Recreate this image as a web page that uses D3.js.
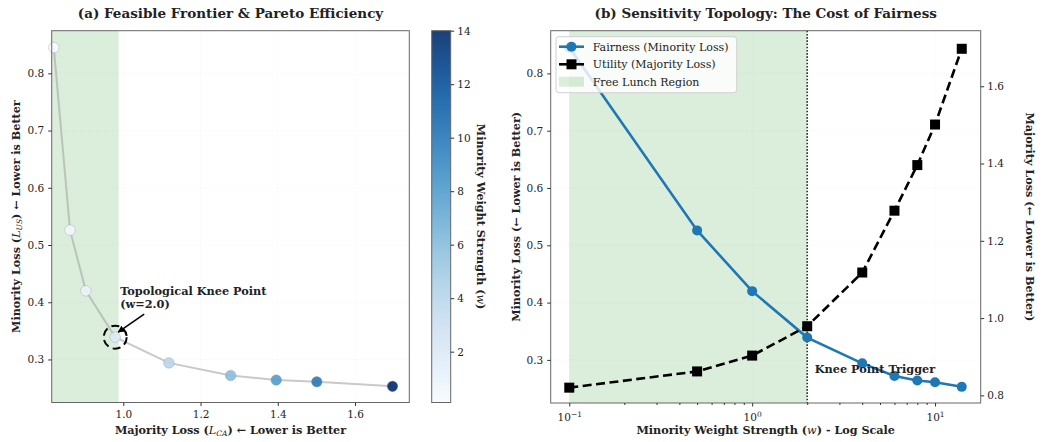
<!DOCTYPE html>
<html><head><meta charset="utf-8">
<script src="https://cdn.jsdelivr.net/npm/d3@7/dist/d3.min.js"></script>
<style>
body{margin:0;background:#fff}
svg text{font-family:"DejaVu Serif",serif;fill:#222}
</style>
</head><body>
<svg id="c" width="1042" height="442"></svg>
<script>
// ---- data ----
const weights      = [0.1, 0.5, 1, 2, 4, 6, 8, 10, 14];
const minorityLoss = [0.845, 0.526, 0.42, 0.339, 0.294, 0.272, 0.264, 0.261, 0.253];
const majorityLoss = [0.82, 0.862, 0.903, 0.979, 1.118, 1.278, 1.396, 1.501, 1.697];
const kneeIndex = 3;
const freeLunchEndMajority = 0.988;
const leftXTicks = [1.0, 1.2, 1.4, 1.6];
const lossTicks  = [0.3, 0.4, 0.5, 0.6, 0.7, 0.8];
const cbTicks    = [2, 4, 6, 8, 10, 12, 14];
const logTicks   = [0.1, 1, 10];
const logMinor   = [0.2,0.3,0.4,0.5,0.6,0.7,0.8,0.9,2,3,4,5,6,7,8,9];
const majTicks   = [0.8, 1.0, 1.2, 1.4, 1.6];
const legendLabels = ["Fairness (Minority Loss)", "Utility (Majority Loss)", "Free Lunch Region"];

const BLUE = "#1f77b4", GREEN = "rgba(0,128,0,0.14)", SPINE = "#666";
const svg = d3.select("#c");
svg.append("rect").attr("width",1042).attr("height",442).attr("fill","#fff");

const defs = svg.append("defs");
defs.append("marker").attr("id","arr").attr("viewBox","0 0 10 10").attr("refX",9).attr("refY",5)
  .attr("markerWidth",7).attr("markerHeight",7).attr("orient","auto-start-reverse")
  .attr("markerUnits","userSpaceOnUse")
  .append("path").attr("d","M0,0 L10,5 L0,10 Z").attr("fill","#000");

function styleAxis(g){
  g.select(".domain").remove();
  g.selectAll(".tick line").attr("stroke","#333");
  g.selectAll(".tick text").attr("font-size","10.5px").attr("font-family","DejaVu Serif").attr("fill","#222");
}
function frame(x0,y0,x1,y1){
  svg.append("rect").attr("x",x0).attr("y",y0).attr("width",x1-x0).attr("height",y1-y0)
    .attr("fill","none").attr("stroke",SPINE).attr("stroke-width",1);
}
function grid(xs, xv, ys, yv, x0,y0,x1,y1){
  const g = svg.append("g").attr("stroke","rgba(0,0,0,0.045)").attr("stroke-dasharray","2,2").attr("stroke-width",0.8);
  xv.forEach(v=>g.append("line").attr("x1",xs(v)).attr("x2",xs(v)).attr("y1",y0).attr("y2",y1));
  yv.forEach(v=>g.append("line").attr("y1",ys(v)).attr("y2",ys(v)).attr("x1",x0).attr("x2",x1));
}

// ================= Panel (a) =================
const A = {x0:51.7, x1:409.3, y0:30.7, y1:402.5};
const xA = d3.scaleLinear().domain([0.8146, 1.7405]).range([A.x0, A.x1]);
const yA = d3.scaleLinear().domain([0.2248, 0.8745]).range([A.y1, A.y0]);
const cNorm = d3.scaleLinear().domain([0.1, 14]).range([0,1]).clamp(true);
const cmap = w => d3.interpolateBlues(cNorm(w));

grid(xA, leftXTicks, yA, lossTicks, A.x0,A.y0,A.x1,A.y1);
svg.append("rect").attr("x",A.x0).attr("y",A.y0).attr("width",xA(freeLunchEndMajority)-A.x0)
  .attr("height",A.y1-A.y0).attr("fill",GREEN);

const ptsA = weights.map((w,i)=>({w, x:majorityLoss[i], y:minorityLoss[i]}));
svg.append("path").datum(ptsA)
  .attr("d", d3.line().x(d=>xA(d.x)).y(d=>yA(d.y)))
  .attr("fill","none").attr("stroke","#a9aea9").attr("stroke-opacity",0.65).attr("stroke-width",2);
svg.append("g").selectAll("circle").data(ptsA).join("circle")
  .attr("cx",d=>xA(d.x)).attr("cy",d=>yA(d.y)).attr("r",5.3)
  .attr("fill",d=>cmap(d.w)).attr("fill-opacity",0.92)
  .attr("stroke","rgba(150,150,150,0.6)").attr("stroke-width",0.6);

// knee annotation
const kx = xA(majorityLoss[kneeIndex]), ky = yA(minorityLoss[kneeIndex]);
svg.append("circle").attr("cx",kx).attr("cy",ky).attr("r",11.5).attr("fill","none")
  .attr("stroke","#000").attr("stroke-width",2).attr("stroke-dasharray","8,4.5");
svg.append("line").attr("x1",kx+29).attr("y1",ky-23).attr("x2",kx+3).attr("y2",ky-5)
  .attr("stroke","#000").attr("stroke-width",1.6).attr("marker-end","url(#arr)");
const kt = svg.append("text").attr("x",kx+5).attr("y",ky-42).attr("font-size","11.3px").attr("font-weight","bold").attr("fill","#000");
kt.append("tspan").attr("x",kx+5).text("Topological Knee Point");
kt.append("tspan").attr("x",kx+5).attr("dy","1.15em").text("(w=2.0)");

frame(A.x0,A.y0,A.x1,A.y1);
const axA = svg.append("g").attr("transform",`translate(0,${A.y1})`)
  .call(d3.axisBottom(xA).tickValues(leftXTicks).tickFormat(d3.format(".1f")).tickSize(3.5).tickPadding(5));
styleAxis(axA);
const ayA = svg.append("g").attr("transform",`translate(${A.x0},0)`)
  .call(d3.axisLeft(yA).tickValues(lossTicks).tickFormat(d3.format(".1f")).tickSize(3.5).tickPadding(4));
styleAxis(ayA);

svg.append("text").attr("x",(A.x0+A.x1)/2).attr("y",17.5).attr("text-anchor","middle")
  .attr("font-size","13.5px").attr("font-weight","bold").attr("fill","#111")
  .text("(a) Feasible Frontier & Pareto Efficiency");

// x label with math
const xl = svg.append("text").attr("x",(A.x0+A.x1)/2).attr("y",434).attr("text-anchor","middle")
  .attr("font-size","11.2px").attr("font-weight","bold").attr("fill","#333");
xl.append("tspan").text("Majority Loss (");
xl.append("tspan").attr("font-style","italic").attr("font-weight","normal").text("L");
xl.append("tspan").attr("font-style","italic").attr("font-weight","normal").attr("font-size","7.5px").attr("dy","2").text("CA");
xl.append("tspan").attr("dy","-2").text(") ← Lower is Better");

const yl = svg.append("text").attr("transform",`translate(20,${(A.y0+A.y1)/2}) rotate(-90)`).attr("text-anchor","middle")
  .attr("font-size","11.2px").attr("font-weight","bold").attr("fill","#333");
yl.append("tspan").text("Minority Loss (");
yl.append("tspan").attr("font-style","italic").attr("font-weight","normal").text("L");
yl.append("tspan").attr("font-style","italic").attr("font-weight","normal").attr("font-size","7.5px").attr("dy","2").text("US");
yl.append("tspan").attr("dy","-2").text(") ← Lower is Better");

// colorbar
const CB = {x0:431.7, x1:450.7, y0:30.7, y1:402.5};
const cbScale = d3.scaleLinear().domain([0.1,14]).range([CB.y1, CB.y0]);
const grad = defs.append("linearGradient").attr("id","cbg").attr("x1",0).attr("x2",0).attr("y1",1).attr("y2",0);
d3.range(0,1.0001,0.05).forEach(t=>grad.append("stop").attr("offset",t).attr("stop-color",d3.interpolateBlues(t)).attr("stop-opacity",0.92));
svg.append("rect").attr("x",CB.x0).attr("y",CB.y0).attr("width",CB.x1-CB.x0).attr("height",CB.y1-CB.y0)
  .attr("fill","url(#cbg)").attr("stroke",SPINE).attr("stroke-width",1);
const acb = svg.append("g").attr("transform",`translate(${CB.x1},0)`)
  .call(d3.axisRight(cbScale).tickValues(cbTicks).tickSize(3.5).tickPadding(3));
styleAxis(acb);
const cbl = svg.append("text").attr("transform",`translate(477,${(CB.y0+CB.y1)/2}) rotate(90)`).attr("text-anchor","middle")
  .attr("font-size","11.2px").attr("font-weight","bold").attr("fill","#333");
cbl.append("tspan").text("Minority Weight Strength (");
cbl.append("tspan").attr("font-style","italic").attr("font-weight","normal").text("w");
cbl.append("tspan").text(")");

// ================= Panel (b) =================
const B = {x0:550.7, x1:980.7, y0:30.7, y1:403};
const xB = d3.scaleLog().domain([Math.pow(10,-1.1016), Math.pow(10,1.2497)]).range([B.x0,B.x1]);
const yBL = d3.scaleLinear().domain([0.2248, 0.8745]).range([B.y1,B.y0]);
const yBR = d3.scaleLinear().domain([0.7803, 1.7438]).range([B.y1,B.y0]);

grid(xB, logTicks, yBL, lossTicks, B.x0,B.y0,B.x1,B.y1);
svg.append("rect").attr("x",xB(weights[0])).attr("y",B.y0).attr("width",xB(weights[kneeIndex])-xB(weights[0]))
  .attr("height",B.y1-B.y0).attr("fill",GREEN);
svg.append("line").attr("x1",xB(weights[kneeIndex])).attr("x2",xB(weights[kneeIndex])).attr("y1",B.y0).attr("y2",B.y1)
  .attr("stroke","#333").attr("stroke-width",1.6).attr("stroke-dasharray","1.6,1.6");

const ptsB = weights.map((w,i)=>({w, m:minorityLoss[i], M:majorityLoss[i]}));
svg.append("path").datum(ptsB).attr("d",d3.line().x(d=>xB(d.w)).y(d=>yBL(d.m)))
  .attr("fill","none").attr("stroke",BLUE).attr("stroke-width",2.6);
svg.append("g").selectAll("circle").data(ptsB).join("circle")
  .attr("cx",d=>xB(d.w)).attr("cy",d=>yBL(d.m)).attr("r",5).attr("fill",BLUE);

svg.append("text").attr("x",xB(2.2)).attr("y",yBL(0.277)).attr("font-size","11.3px").attr("font-weight","bold").attr("fill","#000")
  .text("Knee Point Trigger");

svg.append("path").datum(ptsB).attr("d",d3.line().x(d=>xB(d.w)).y(d=>yBR(d.M)))
  .attr("fill","none").attr("stroke","#000").attr("stroke-width",2.6).attr("stroke-dasharray","9,4.5");
svg.append("g").selectAll("rect").data(ptsB).join("rect")
  .attr("x",d=>xB(d.w)-5).attr("y",d=>yBR(d.M)-5).attr("width",10).attr("height",10).attr("fill","#000");

// legend
const L = svg.append("g");
L.append("rect").attr("x",556).attr("y",36.7).attr("width",180.7).attr("height",56).attr("rx",3)
  .attr("fill","#fff").attr("fill-opacity",0.82).attr("stroke","#d0d0d0").attr("stroke-width",1);
const rowsY = [46.7, 64.3, 81.7];
L.append("line").attr("x1",559).attr("x2",584).attr("y1",rowsY[0]).attr("y2",rowsY[0]).attr("stroke",BLUE).attr("stroke-width",2.6);
L.append("circle").attr("cx",571.5).attr("cy",rowsY[0]).attr("r",5).attr("fill",BLUE);
L.append("line").attr("x1",559).attr("x2",584).attr("y1",rowsY[1]).attr("y2",rowsY[1]).attr("stroke","#000").attr("stroke-width",2.6);
L.append("rect").attr("x",566.5).attr("y",rowsY[1]-5).attr("width",10).attr("height",10).attr("fill","#000");
L.append("rect").attr("x",559).attr("y",rowsY[2]-5).attr("width",25).attr("height",10).attr("fill",GREEN);
L.selectAll("text.lg").data(legendLabels).join("text").attr("class","lg")
  .attr("x",592.7).attr("y",(d,i)=>rowsY[i]).attr("dy","0.35em")
  .attr("font-size","11px").attr("fill","#333").text(d=>d);

frame(B.x0,B.y0,B.x1,B.y1);
const axB = svg.append("g").attr("transform",`translate(0,${B.y1})`)
  .call(d3.axisBottom(xB).tickValues(logTicks).tickFormat("").tickSize(3.5).tickPadding(5));
styleAxis(axB);
axB.selectAll(".tick").each(function(d){
  const t = d3.select(this).append("text").attr("y",17.5).attr("text-anchor","middle")
    .attr("font-size","10.5px").attr("fill","#222");
  t.append("tspan").text("10");
  t.append("tspan").attr("dy","-4").attr("font-size","7.5px").text(String(Math.round(Math.log10(d))).replace("-","−"));
});
const axBm = svg.append("g").attr("transform",`translate(0,${B.y1})`)
  .call(d3.axisBottom(xB).tickValues(logMinor).tickFormat("").tickSize(2));
styleAxis(axBm);
const ayBL = svg.append("g").attr("transform",`translate(${B.x0},0)`)
  .call(d3.axisLeft(yBL).tickValues(lossTicks).tickFormat(d3.format(".1f")).tickSize(3.5).tickPadding(4));
styleAxis(ayBL);
const ayBR = svg.append("g").attr("transform",`translate(${B.x1},0)`)
  .call(d3.axisRight(yBR).tickValues(majTicks).tickFormat(d3.format(".1f")).tickSize(3.5).tickPadding(3));
styleAxis(ayBR);

svg.append("text").attr("x",(B.x0+B.x1)/2).attr("y",17.5).attr("text-anchor","middle")
  .attr("font-size","13.5px").attr("font-weight","bold").attr("fill","#111")
  .text("(b) Sensitivity Topology: The Cost of Fairness");
const xlb = svg.append("text").attr("x",(B.x0+B.x1)/2).attr("y",434).attr("text-anchor","middle")
  .attr("font-size","11.2px").attr("font-weight","bold").attr("fill","#333");
xlb.append("tspan").text("Minority Weight Strength (");
xlb.append("tspan").attr("font-style","italic").attr("font-weight","normal").text("w");
xlb.append("tspan").text(") - Log Scale");
svg.append("text").attr("transform",`translate(519.5,${(B.y0+B.y1)/2}) rotate(-90)`).attr("text-anchor","middle")
  .attr("font-size","11.2px").attr("font-weight","bold").attr("fill",BLUE)
  .text("Minority Loss (← Lower is Better)");
svg.append("text").attr("transform",`translate(1026,${(B.y0+B.y1)/2}) rotate(90)`).attr("text-anchor","middle")
  .attr("font-size","11.2px").attr("font-weight","bold").attr("fill","#111")
  .text("Majority Loss (← Lower is Better)");
</script>
</body></html>
